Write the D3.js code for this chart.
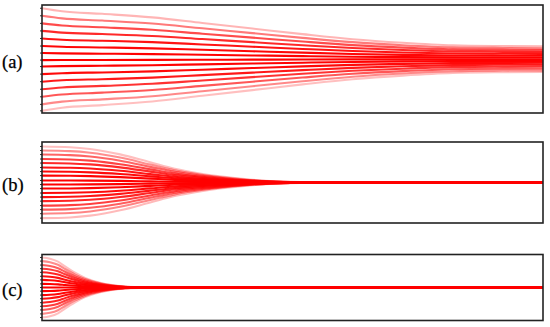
<!DOCTYPE html>
<html><head><meta charset="utf-8">
<script src="https://cdn.jsdelivr.net/npm/d3@7"></script>
<style>body{margin:0;background:#fff}svg{display:block}
.lbl{font-family:'Liberation Serif','Times New Roman',serif;font-size:18.5px;fill:#000;stroke:#000;stroke-width:0.25px}</style>
</head><body>
<script>
// Panel labels
const panelLabels = ["(a)", "(b)", "(c)"];
// Initial offsets of each trajectory (normalised units, -1..1)
const startA = [0.94, 0.80, 0.66, 0.52, 0.38, 0.24, 0.11, -0.02, -0.14, -0.28, -0.42, -0.56, -0.70, -0.84, -0.96];
const startB = [0.89, 0.79, 0.69, 0.58, 0.48, 0.37, 0.27, 0.17, 0.05, -0.05, -0.15, -0.26, -0.36, -0.46, -0.57, -0.67, -0.77, -0.88];
const startC = [0.91, 0.80, 0.68, 0.57, 0.46, 0.34, 0.23, 0.11, 0, -0.11, -0.23, -0.34, -0.46, -0.57, -0.68, -0.80, -0.91];
// Spread envelope (time 0..100 -> fraction of initial offset)
const timeA = [0, 4, 12, 22, 32, 42, 52, 62, 72, 82, 92, 100];
const envA  = [1, 0.94, 0.89, 0.82, 0.71, 0.60, 0.49, 0.39, 0.32, 0.27, 0.255, 0.25];
const timeB = [0, 5.6, 9.6, 15.6, 21.6, 26.5, 31.5, 35.5, 41.5, 45.5, 51.5, 57.5, 100];
const envB  = [1, 0.98, 0.93, 0.78, 0.56, 0.38, 0.25, 0.17, 0.08, 0.04, 0.01, 0, 0];
const timeC = [0, 1.6, 3.2, 4.6, 6.6, 8.6, 11.8, 13.6, 16.6, 20, 25, 50, 95.5, 100];
const envC  = [1, 0.96, 0.86, 0.70, 0.49, 0.32, 0.15, 0.09, 0.03, 0.01, 0, 0, 0, 0.015];

const W = 550, H = 327;
const svg = d3.select("body").append("svg").attr("width", W).attr("height", H);

const panels = [
  {label: panelLabels[0], starts: startA, t: timeA, env: envA, top: 5, bottom: 113, labelY: 62},
  {label: panelLabels[1], starts: startB, t: timeB, env: envB, top: 142, bottom: 223, labelY: 185},
  {label: panelLabels[2], starts: startC, t: timeC, env: envC, top: 254.5, bottom: 320.5, labelY: 290}
];
const x0 = 42, x1 = 543;

panels.forEach(p => {
  const g = svg.append("g");
  const x = d3.scaleLinear().domain([0, 100]).range([x0, x1]);
  const y = d3.scaleLinear().domain([-1, 1]).range([p.bottom, p.top]);
  const line = d3.line().x(d => x(d[0])).y(d => y(d[1])).curve(d3.curveMonotoneX);
  const maxS = d3.max(p.starts, s => Math.abs(s));
  const order = p.starts.map((s, i) => i).sort((a, b) => Math.abs(p.starts[b]) - Math.abs(p.starts[a]));
  order.forEach(i => {
    const s = p.starts[i];
    const pts = p.t.map((tt, j) => [tt, s * p.env[j]]);
    const r = Math.abs(s) / maxS;
    g.append("path").attr("d", line(pts))
      .attr("fill", "none").attr("stroke", "#ff0000")
      .attr("stroke-width", 2.1)
      .attr("stroke-opacity", 1 - 0.75 * Math.pow(r, 2.5));
  });
  // small ticks at the start points on the left edge
  g.selectAll("line.tk").data(p.starts).join("line")
    .attr("x1", x0 - 2).attr("x2", x0).attr("y1", d => y(d)).attr("y2", d => y(d))
    .attr("stroke", "#333").attr("stroke-width", 1);
  g.append("rect").attr("x", x0).attr("y", p.top).attr("width", x1 - x0).attr("height", p.bottom - p.top)
    .attr("fill", "none").attr("stroke", "#222").attr("stroke-width", 1.6);
  svg.append("text").attr("class", "lbl").attr("x", 2).attr("y", p.labelY).attr("dominant-baseline", "central")
    .text(p.label);
});
</script>
</body></html>
